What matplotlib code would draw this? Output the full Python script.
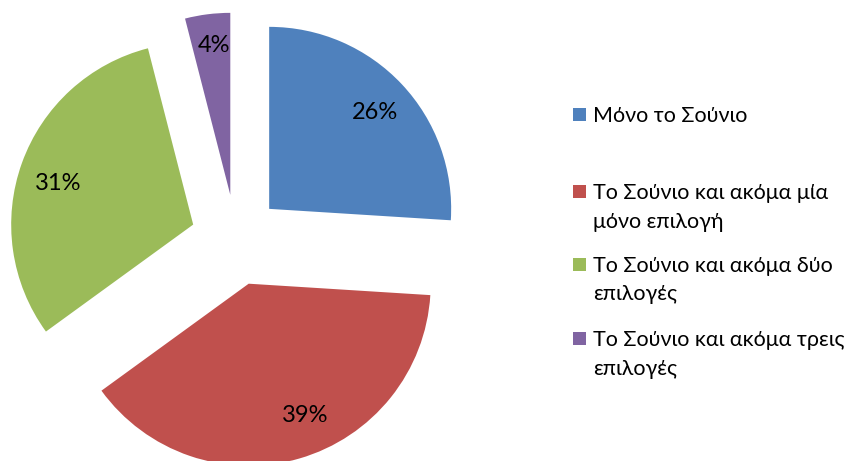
import matplotlib
matplotlib.use("Agg")
import matplotlib.pyplot as plt
from matplotlib.patches import Rectangle

plt.rcParams['font.family'] = ['Lato', 'DejaVu Sans']

categories = ["Μόνο το Σούνιο",
              "Το Σούνιο και ακόμα μία\nμόνο επιλογή",
              "Το Σούνιο και ακόμα δύο\nεπιλογές",
              "Το Σούνιο και ακόμα τρεις\nεπιλογές"]
values = [26, 39, 31, 4]
colors = ["#4F81BD", "#C0504D", "#9BBB59", "#8064A2"]

W, H = 851, 461
fig = plt.figure(figsize=(W / 100, H / 100), dpi=100)
ax = fig.add_axes([0, 0, 1, 1])
R = 182.0
cx, cy = 236.0, 240.0

wedges, texts = ax.pie(values, colors=colors, startangle=90, counterclock=False,
                       explode=[0.25] * 4, radius=1.0,
                       labels=[f"{v}%" for v in values], labeldistance=0.78,
                       textprops=dict(fontsize=17, color='black'),
                       wedgeprops=dict(linewidth=0), frame=True)
# small nudges of label placement (pixels: right, down)
label_nudge = [(2, 1), (17, -5), (-1, 7), (1, -9)]
for t, (dx, dy) in zip(texts, label_nudge):
    t.set_ha('center')
    t.set_va('center')
    x, y = t.get_position()
    t.set_position((x + dx / R, y - dy / R))

ax.set_xlim(-cx / R, (W - cx) / R)
ax.set_ylim(-(H - cy) / R, cy / R)
ax.set_aspect('auto')
ax.axis('off')

# legend
centers = [113, 190, 263, 337]
line_step = 29
for lab, col, yc in zip(categories, colors, centers):
    fig.patches.append(Rectangle((573 / W, 1 - (yc + 8) / H), 13 / W, 13 / H,
                                 transform=fig.transFigure, facecolor=col, edgecolor='none'))
    for i, line in enumerate(lab.split("\n")):
        fig.text(593 / W, 1 - (yc + 8.5 + i * line_step) / H, line, fontsize=15.5,
                 va='baseline', ha='left')

fig.savefig("out.png", dpi=100)
